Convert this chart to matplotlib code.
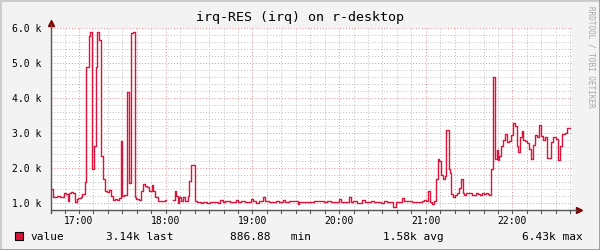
import numpy as np
import matplotlib.pyplot as plt
from matplotlib.lines import Line2D
from matplotlib.patches import Rectangle

# time of each step start, minutes after 16:40 (last entry = end of data)
minutes = [0.0, 1.8, 2.8, 4.6, 6.5, 8.1, 9.7, 11.1, 12.7, 13.4, 14.3, 16.1, 17.1, 18.5, 19.6,
           21.2, 22.1, 24.0, 24.9, 26.8, 27.9, 28.8, 30.2, 31.6, 32.3, 34.1, 35.1, 36.5, 37.8,
           39.2, 40.6, 42.0, 43.4, 44.8, 46.1, 47.5, 48.9, 49.8, 51.2, 53.1, 54.4, 55.8, 57.2,
           58.6, 59.5, 61.4, 62.6, 64.0, 65.4, 67.3, 68.6, 70.5, 71.4, 72.8, 74.6, 79.3, 80.2,
           84.8, 86.2, 87.1, 88.5, 89.4, 90.8, 92.2, 93.6, 95.4, 96.3, 97.7, 100.0, 101.4, 104.2,
           106.0, 108.8, 110.6, 116.2, 117.6, 119.9, 121.2, 124.5, 128.6, 130.0, 132.3, 134.6,
           139.2, 140.2, 142.5, 144.8, 147.5, 148.5, 151.7, 156.3, 158.6, 160.9, 162.3, 165.5,
           171.5, 172.5, 179.4, 182.6, 187.2, 189.5, 191.8, 194.1, 200.1, 201.1, 203.4, 206.6,
           208.0, 209.8, 212.6, 216.1, 217.7, 221.8, 224.1, 228.7, 231.0, 233.4, 237.5, 239.4,
           243.5, 244.9, 246.3, 248.6, 250.4, 255.5, 257.3, 258.7, 260.1, 261.5, 262.9, 264.2,
           265.6, 267.0, 268.4, 269.3, 270.7, 272.1, 273.0, 273.9, 275.8, 276.7, 277.6, 279.0,
           280.4, 281.8, 283.2, 284.1, 285.5, 286.4, 287.8, 291.9, 294.7, 296.1, 297.5, 298.9,
           300.2, 301.6, 303.0, 303.9, 305.3, 306.2, 308.1, 309.0, 309.9, 310.8, 312.2, 313.6,
           315.0, 316.4, 317.3, 318.7, 320.1, 321.5, 322.8, 323.8, 325.1, 326.5, 327.5, 328.8,
           330.2, 331.6, 333.0, 334.4, 335.8, 337.1, 338.1, 339.5, 340.8, 342.2, 344.1, 346.8,
           348.2, 350.1, 351.4, 352.8, 354.2, 356.1, 357.4, 359.8]
# irq-RES rate in thousands, one per step (nan = no data)
values = [1.40, 1.18, 1.16, 1.20, 1.18, 1.16, 1.28, 1.26, 1.07, 1.28, 1.31, 1.28, 1.02, 1.11, 1.15,
          1.16, 1.25, 1.61, 4.88, 5.76, 5.90, 1.97, 2.64, 4.88, 5.88, 5.67, 2.34, 1.69, 1.35,
          1.31, 1.37, 1.21, 1.10, 1.12, 1.10, 1.13, 2.78, 1.19, 1.23, 4.18, 1.56, 5.86, 5.90,
          1.16, 1.11, 1.08, 1.33, 1.54, 1.50, 1.45, 1.35, 1.51, 1.33, 1.18, 1.05, 1.10, np.nan,
          1.10, 1.33, 1.21, 1.00, 1.18, 1.07, 1.16, 1.07, 1.21, 1.64, 2.09, 1.07, 1.04, 1.00,
          1.02, 1.00, 1.04, 1.00, 1.09, 1.02, 1.07, 1.02, 1.10, 1.02, 1.05, 1.02,
          1.11, 1.07, 1.01, 1.05, 1.18, 1.05, 1.02, 1.05, 1.02, 1.09, 1.02, 1.05,
          0.97, 1.04, 1.02, 1.05, 1.07, 1.04, 1.07, 1.02, 1.12, 1.04, 1.02, 1.18,
          1.02, 1.05, 1.00, 1.09, 1.02, 1.05, 1.02, 1.00, 1.05, 1.02, 0.89, 1.02,
          1.13, 1.06, 1.05, 1.06, 1.04, 1.02, 1.05, 1.09, 1.05, 1.34, 1.02, 0.98,
          1.05, 1.68, 2.27, 2.20, 1.80, 1.70, 1.78, 3.10, 1.97, 1.85, 1.26, 1.18,
          1.23, 1.30, 1.44, 1.70, 1.30, 1.24, 1.30, 1.24, 1.30, 1.26, 1.24, 1.30,
          1.26, 1.30, 1.26, 1.24, 1.98, 4.59, 2.27, 2.51, 2.23, 2.35, 2.63, 2.80,
          2.97, 2.73, 2.78, 2.94, 3.28, 3.21, 2.63, 2.46, 2.88, 3.07, 2.80, 2.76,
          2.72, 2.53, 2.27, 2.65, 2.93, 2.90, 3.22, 2.91, 2.80, 2.90, 2.30, 2.75,
          2.88, 2.84, 2.23, 2.63, 2.97, 3.01, 3.13]

hour_ticks = [20, 80, 140, 200, 260, 320]
hour_labels = ['17:00', '18:00', '19:00', '20:00', '21:00', '22:00']
y_ticks = [1, 2, 3, 4, 5, 6]
legend_stats = [('3.14k last', 106), ('886.88   min', 230), ('1.58k avg', 383), ('6.43k max', 522)]

line_col = '#dc143c'
mono = 'DejaVu Sans Mono'
W, H = 600, 250

fig = plt.figure(figsize=(6, 2.5), dpi=100, facecolor='#f3f3f3')
L, R, T, B = 51, 572, 28, 210
ax = fig.add_axes([L / W, 1 - B / H, (R - L) / W, (B - T) / H])
ax.set_facecolor('white')

x = np.array(minutes)
y = np.array(values + [values[-1]])
ax.step(x, y, where='post', color=line_col, lw=1.0, zorder=3)

ax.set_xlim(0.6, 361.2)
ax.set_ylim(0.8, 6.0)
ax.set_xticks(hour_ticks)
ax.set_xticklabels(hour_labels)
ax.set_xticks(np.arange(10, 361, 10), minor=True)
ax.set_yticks(y_ticks)
ax.set_yticklabels(['%.1f k' % v for v in y_ticks])
ax.set_yticks(np.arange(1.0, 6.01, 0.2), minor=True)

ax.grid(which='minor', color='#bbbbbb', lw=0.7, ls=(0, (1, 2)))
ax.grid(which='major', color='#f28a8a', lw=0.7, ls=(0, (1, 2)))
ax.set_axisbelow(True)

ax.tick_params(axis='both', which='both', length=0, labelsize=7)
ax.tick_params(axis='x', pad=4)
ax.tick_params(axis='y', pad=7)
for lab in ax.get_xticklabels() + ax.get_yticklabels():
    lab.set_family(mono)

for s in ['top', 'right', 'left', 'bottom']:
    ax.spines[s].set_visible(False)

# axes with arrows, drawn in pixel space
def px(xp, yp):
    return xp / W, 1 - yp / H

axis_col = '#555555'
fig.add_artist(Line2D(*zip(px(L, B), px(577, B)), color=axis_col, lw=1))
fig.add_artist(Line2D(*zip(px(L, B + 3), px(L, 24)), color=axis_col, lw=1))
ax.plot([px(579, B)[0]], [px(579, B)[1]], marker='>', ms=5, color='#7f0000',
        transform=fig.transFigure, clip_on=False)
ax.plot([px(L, 23)[0]], [px(L, 23)[1]], marker='^', ms=5, color='#7f0000',
        transform=fig.transFigure, clip_on=False)
for m in np.arange(10, 361, 10):
    xp = L + (m - 0.6) / (361.2 - 0.6) * (R - L)
    fig.add_artist(Line2D(*zip(px(xp, B), px(xp, B + 3)), color=axis_col, lw=0.8))

fig.text(0.5, 1 - 18 / H, 'irq-RES (irq) on r-desktop', ha='center', va='center',
         family=mono, fontsize=9.6)
fig.text(591 / W, 1 - 6 / H, 'RRDTOOL / TOBI OETIKER', rotation=270, ha='center', va='top',
         family=mono, fontsize=5.5, color='#a8a8a8')

# legend
fig.add_artist(Rectangle(px(15, 240), 8 / W, 8 / H, facecolor=line_col, edgecolor='black', lw=0.8))
fig.text(30 / W, 1 - 236.5 / H, 'value', va='center', family=mono, fontsize=8)
for txt, xp in legend_stats:
    fig.text(xp / W, 1 - 236.5 / H, txt, va='center', family=mono, fontsize=8)

# 3d border
fig.add_artist(Line2D([0, 0, 1], [0, 1, 1], color='#cbcbcb', lw=2))
fig.add_artist(Line2D([0, 1, 1], [0, 0, 1], color='#999999', lw=2))

fig.savefig('out.png', dpi=100, facecolor=fig.get_facecolor())
